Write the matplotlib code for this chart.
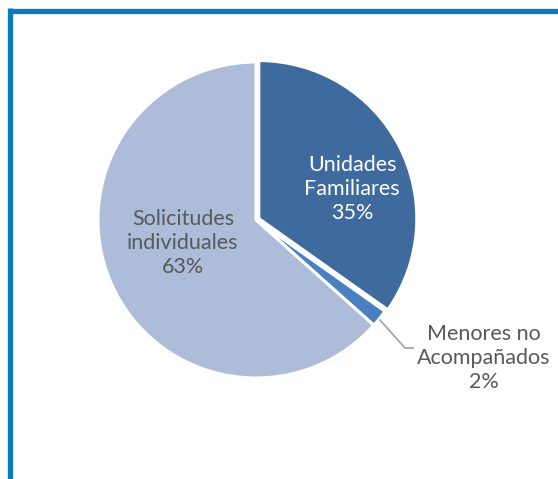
import matplotlib
matplotlib.use("Agg")
import matplotlib.pyplot as plt
from matplotlib.lines import Line2D

categories = ["Unidades\nFamiliares", "Menores no\nAcompañados", "Solicitudes\nindividuales"]
values = [34.8, 1.8, 63.4]
colors = ["#3f6a9e", "#4a7fc0", "#adbcd9"]

W, H = 558, 479
fig = plt.figure(figsize=(W / 100, H / 100), dpi=100)
fig.patch.set_facecolor("white")

cx, cy, r = 256, 220, 158
ax = fig.add_axes([(cx - r) / W, (H - cy - r) / H, 2 * r / W, 2 * r / H])
wedges, _ = ax.pie(values, colors=colors, startangle=90, counterclock=False,
                   explode=[0.02, 0, 0], radius=1,
                   wedgeprops=dict(edgecolor="white", linewidth=2.2))
ax.set_xlim(-1, 1)
ax.set_ylim(-1, 1)
ax.set_aspect("auto")
ax.axis("off")

def d(px, py):
    return (px - cx) / r, (cy - py) / r

total = sum(values)
pct = [f"{v / total * 100:.0f}%" for v in values]
font = ["Lato", "DejaVu Sans"]
fs = 15.5
pos = [d(352, 189), d(484, 358), d(183, 243)]
tcolors = ["white", "#595959", "#595959"]
for cat, p, (x, y), c in zip(categories, pct, pos, tcolors):
    ax.text(x, y, f"{cat}\n{p}", ha="center", va="center", fontsize=fs,
            color=c, family=font, linespacing=1.25, clip_on=False)

lx, ly = zip(d(380, 320), d(405, 348), d(413, 348))
ax.add_line(Line2D(lx, ly, color="#a6a6a6", linewidth=1.3, clip_on=False))

# frame border (top and left)
bc = "#0b78bf"
fig.add_artist(Line2D([9.5 / W, 1.0], [1 - 10.5 / H, 1 - 10.5 / H],
                      transform=fig.transFigure, color=bc, linewidth=3.8,
                      solid_capstyle="butt"))
fig.add_artist(Line2D([9.5 / W, 9.5 / W], [0, 1 - 8 / H],
                      transform=fig.transFigure, color=bc, linewidth=3.8,
                      solid_capstyle="butt"))

fig.savefig("out.png", dpi=100, facecolor="white")
